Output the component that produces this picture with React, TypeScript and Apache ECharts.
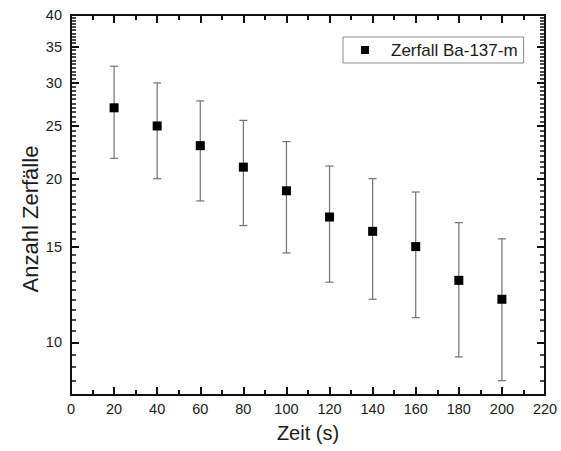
import React, { useEffect, useRef } from "react";
import * as echarts from "echarts";

const times = [20, 40, 60, 80, 100, 120, 140, 160, 180, 200];
const counts = [27, 25, 23, 21, 19, 17, 16, 15, 13, 12];
const errors = [5.2, 5.0, 4.8, 4.6, 4.4, 4.1, 4.0, 3.9, 3.6, 3.5];
const yTickLabels = [10, 15, 20, 25, 30, 35, 40];
const seriesName = "Zerfall Ba-137-m";
const xTitle = "Zeit (s)";
const yTitle = "Anzahl Zerfälle";

const Y_MIN = 8;
const Y_MAX = 40;
const Y_MINOR_STEP = 0.5;
const FONT = "'Liberation Sans', Arial, sans-serif";
const TEXT = "#1a1a1a";
const AXIS = "#111";

const lg = (v: number) => Math.log10(v);

export default function App() {
  const ref = useRef<HTMLDivElement>(null);
  useEffect(() => {
    document.body.style.margin = "0";
    if (!ref.current) return;
    const chart = echarts.init(ref.current, undefined, { renderer: "svg" });

    const minorVals: number[] = [];
    for (let v = Y_MIN; v <= Y_MAX + 1e-9; v += Y_MINOR_STEP) minorVals.push(lg(v));
    const majorVals = yTickLabels.map(lg);

    const errData = times.map((t, i) => [t, counts[i] - errors[i], counts[i] + errors[i]]);
    const ptData = times.map((t, i) => [t, counts[i]]);

    chart.setOption({
      animation: false,
      backgroundColor: "#fff",
      textStyle: { fontFamily: FONT },
      grid: { left: 71, right: 16, top: 15, bottom: 56, containLabel: false },
      legend: {
        data: [seriesName],
        left: 343,
        top: 37,
        icon: "rect",
        itemWidth: 8,
        itemHeight: 8,
        padding: [4, 6, 4, 18],
        borderColor: "#8c8c8c",
        borderWidth: 1,
        textStyle: { fontFamily: FONT, fontSize: 17, color: TEXT, padding: [0, 0, 0, 17], lineHeight: 18 },
      },
      xAxis: [
        {
          type: "value",
          min: 0,
          max: 220,
          interval: 20,
          position: "bottom",
          splitLine: { show: false },
          axisLine: { show: true, onZero: false, lineStyle: { color: AXIS, width: 2 } },
          axisTick: { show: true, inside: true, length: 8, lineStyle: { color: AXIS, width: 2 } },
          minorTick: { show: true, splitNumber: 2, length: 5, lineStyle: { color: AXIS, width: 2 } },
          name: xTitle,
          nameLocation: "middle",
          nameGap: 28,
          nameTextStyle: { fontFamily: FONT, fontSize: 20, color: TEXT },
          axisLabel: { show: true, margin: 6, fontFamily: FONT, fontSize: 14.5, color: TEXT },
        },
        {
          type: "value",
          min: 0,
          max: 220,
          interval: 20,
          position: "top",
          splitLine: { show: false },
          axisLine: { show: true, onZero: false, lineStyle: { color: AXIS, width: 2 } },
          axisTick: { show: true, inside: true, length: 8, lineStyle: { color: AXIS, width: 2 } },
          minorTick: { show: true, splitNumber: 2, length: 5, lineStyle: { color: AXIS, width: 2 } },
          axisLabel: { show: false },
        },
      ],
      yAxis: [
        {
          type: "log",
          logBase: 10,
          min: Y_MIN,
          max: Y_MAX,
          show: false,
          splitLine: { show: false },
        },
        {
          type: "value",
          min: lg(Y_MIN),
          max: lg(Y_MAX),
          position: "left",
          splitLine: { show: false },
          axisLine: { show: true, onZero: false, lineStyle: { color: AXIS, width: 2 } },
          axisTick: { show: true, inside: true, length: 8, customValues: majorVals, lineStyle: { color: AXIS, width: 2 } },
          axisLabel: {
            show: true,
            margin: 9,
            customValues: majorVals,
            fontFamily: FONT,
            fontSize: 14.5,
            color: TEXT,
            formatter: (v: number) => String(Math.round(Math.pow(10, v))),
          },
        },
        {
          type: "value",
          min: lg(Y_MIN),
          max: lg(Y_MAX),
          position: "left",
          splitLine: { show: false },
          axisLine: { show: false, onZero: false },
          axisTick: { show: true, inside: true, length: 5, customValues: minorVals, lineStyle: { color: AXIS, width: 1.5 } },
          axisLabel: { show: false },
        },
        {
          type: "value",
          min: lg(Y_MIN),
          max: lg(Y_MAX),
          position: "right",
          splitLine: { show: false },
          axisLine: { show: true, onZero: false, lineStyle: { color: AXIS, width: 2 } },
          axisTick: { show: true, inside: true, length: 8, customValues: majorVals, lineStyle: { color: AXIS, width: 2 } },
          axisLabel: { show: false },
        },
        {
          type: "value",
          min: lg(Y_MIN),
          max: lg(Y_MAX),
          position: "right",
          splitLine: { show: false },
          axisLine: { show: false, onZero: false },
          axisTick: { show: true, inside: true, length: 5, customValues: minorVals, lineStyle: { color: AXIS, width: 1.5 } },
          axisLabel: { show: false },
        },
      ],
      graphic: [
        {
          type: "text",
          x: 30,
          y: 219,
          rotation: Math.PI / 2,
          style: {
            text: yTitle,
            fontFamily: FONT,
            fontSize: 22,
            fill: TEXT,
            align: "center",
            verticalAlign: "middle",
          },
        },
      ],
      series: [
        {
          type: "custom",
          name: "err",
          xAxisIndex: 0,
          yAxisIndex: 0,
          data: errData,
          encode: { x: 0, y: [1, 2] },
          silent: true,
          z: 2,
          renderItem: (params: any, api: any) => {
            const x = api.value(0);
            const pLo = api.coord([x, api.value(1)]);
            const pHi = api.coord([x, api.value(2)]);
            const hw = 4;
            const st = { stroke: "#707070", lineWidth: 1.2 };
            return {
              type: "group",
              children: [
                { type: "line", shape: { x1: pLo[0], y1: pLo[1], x2: pHi[0], y2: pHi[1] }, style: st },
                { type: "line", shape: { x1: pLo[0] - hw, y1: pLo[1], x2: pLo[0] + hw, y2: pLo[1] }, style: st },
                { type: "line", shape: { x1: pHi[0] - hw, y1: pHi[1], x2: pHi[0] + hw, y2: pHi[1] }, style: st },
              ],
            };
          },
        },
        {
          type: "scatter",
          name: seriesName,
          xAxisIndex: 0,
          yAxisIndex: 0,
          data: ptData,
          symbol: "rect",
          symbolSize: 9,
          itemStyle: { color: "#000", opacity: 1 },
          z: 3,
        },
      ],
    });
    return () => chart.dispose();
  }, []);
  return <div ref={ref} style={{ width: 561, height: 451 }} />;
}
